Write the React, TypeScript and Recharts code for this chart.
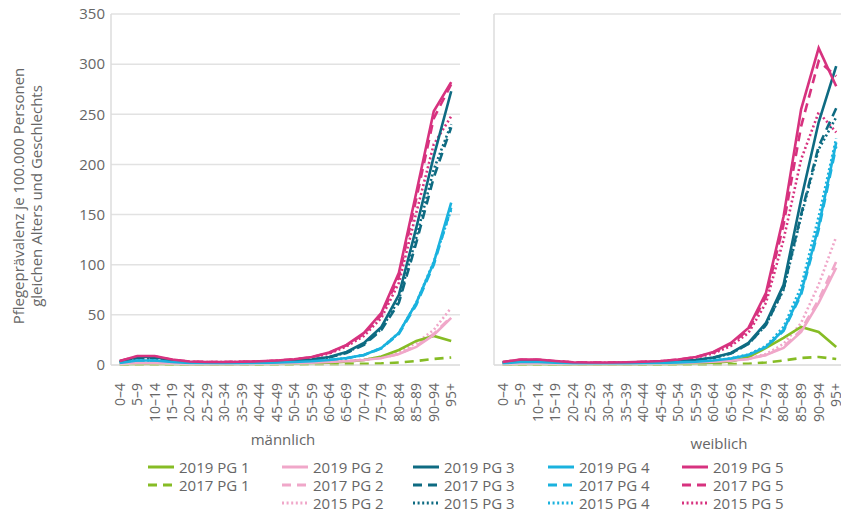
import { LineChart, Line, XAxis, YAxis, CartesianGrid } from 'recharts';

const ageGroups = ['0–4', '5–9', '10–14', '15–19', '20–24', '25–29', '30–34', '35–39', '40–44', '45–49', '50–54', '55–59', '60–64', '65–69', '70–74', '75–79', '80–84', '85–89', '90–94', '95+'];
const yTicks = [0, 50, 100, 150, 200, 250, 300, 350];

// männlich
const m2019PG1 = [0.5, 1, 1, 0.8, 0.6, 0.6, 0.6, 0.7, 0.8, 1, 1.3, 1.7, 2.3, 3.3, 5, 8.5, 15, 24, 29, 24];
const m2017PG1 = [0.3, 0.5, 0.5, 0.4, 0.3, 0.3, 0.3, 0.3, 0.4, 0.5, 0.6, 0.7, 0.8, 1, 1.2, 1.6, 2.5, 4, 6, 7.5];
const m2019PG2 = [1, 2, 2, 1.5, 1, 1, 1, 1.1, 1.3, 1.6, 2, 2.4, 3, 3.8, 5, 7, 11, 18, 30, 47];
const m2017PG2 = [1, 1.8, 1.8, 1.4, 1, 1, 1, 1.1, 1.3, 1.6, 2, 2.4, 3, 3.8, 5, 7, 11, 19, 31, 48];
const m2015PG2 = [0.9, 1.7, 1.7, 1.3, 1, 1, 1, 1.1, 1.3, 1.6, 2, 2.4, 3.1, 4, 5.3, 8, 13, 22, 35, 57];
const m2019PG3 = [3, 8, 8, 4.5, 2.5, 2.2, 2.1, 2.2, 2.5, 3, 4, 5.5, 8, 13, 22, 38, 70, 137, 208, 273];
const m2017PG3 = [3, 7, 7, 4, 2.3, 2, 2, 2.1, 2.4, 2.9, 3.8, 5.2, 7.5, 12, 20, 35, 62, 122, 187, 237];
const m2015PG3 = [2.8, 6.5, 6.5, 3.8, 2.2, 2, 2, 2.1, 2.4, 2.9, 3.8, 5.2, 7.7, 12.5, 21, 36, 65, 127, 195, 240];
const m2019PG4 = [2, 4.5, 4.5, 3, 2, 1.8, 1.8, 1.9, 2.1, 2.5, 3, 3.8, 5, 7, 10, 17, 32, 62, 102, 162];
const m2017PG4 = [2, 4.2, 4.2, 2.8, 1.9, 1.7, 1.7, 1.8, 2, 2.4, 2.9, 3.7, 4.8, 6.8, 10, 16.5, 31, 60, 100, 157];
const m2015PG4 = [1.8, 4, 4, 2.7, 1.8, 1.6, 1.6, 1.7, 1.9, 2.3, 2.8, 3.6, 4.8, 6.8, 10, 17, 32, 62, 103, 155];
const m2019PG5 = [4, 9, 9, 5.5, 3.5, 3, 3, 3.2, 3.7, 4.5, 5.8, 8, 12.5, 20, 32, 52, 92, 172, 253, 282];
const m2017PG5 = [4, 8.5, 8.5, 5.2, 3.3, 3, 3, 3.2, 3.6, 4.4, 5.6, 7.8, 12, 19.5, 31, 50, 88, 166, 246, 280];
const m2015PG5 = [3.8, 8, 8, 5, 3.2, 2.9, 2.9, 3.1, 3.5, 4.2, 5.3, 7.3, 11.5, 18.5, 29, 47, 82, 152, 220, 248];

// weiblich
const f2019PG1 = [0.4, 0.8, 0.8, 0.6, 0.5, 0.5, 0.5, 0.6, 0.7, 0.9, 1.1, 1.5, 2.2, 3.5, 8, 17, 27, 38, 33, 18];
const f2017PG1 = [0.2, 0.4, 0.4, 0.3, 0.3, 0.3, 0.3, 0.3, 0.4, 0.4, 0.5, 0.6, 0.7, 0.9, 1.3, 2.5, 4.5, 7, 8, 6];
const f2019PG2 = [0.8, 1.5, 1.5, 1.2, 1, 1, 1, 1.1, 1.3, 1.6, 2, 2.5, 3.2, 4.2, 6, 10, 17, 33, 62, 97];
const f2017PG2 = [0.8, 1.4, 1.4, 1.1, 1, 1, 1, 1.1, 1.3, 1.6, 2, 2.5, 3.2, 4.2, 6, 10, 18, 35, 65, 103];
const f2015PG2 = [0.7, 1.3, 1.3, 1.1, 1, 1, 1, 1.1, 1.3, 1.6, 2, 2.5, 3.3, 4.5, 6.5, 11, 21, 42, 80, 128];
const f2019PG3 = [2.5, 4.5, 4.5, 3, 2, 1.8, 1.8, 1.9, 2.2, 2.7, 3.5, 5, 7.5, 12, 22, 42, 80, 165, 242, 298];
const f2017PG3 = [2.3, 4.2, 4.2, 2.8, 1.9, 1.7, 1.7, 1.8, 2.1, 2.6, 3.4, 4.8, 7.2, 11.5, 21, 40, 76, 150, 218, 256];
const f2015PG3 = [2.2, 4, 4, 2.7, 1.8, 1.7, 1.7, 1.8, 2.1, 2.6, 3.4, 4.8, 7.2, 11.5, 21, 40, 75, 148, 215, 247];
const f2019PG4 = [1.5, 3, 3, 2.2, 1.6, 1.5, 1.5, 1.6, 1.8, 2.1, 2.6, 3.3, 4.5, 6.5, 10, 18, 35, 72, 138, 222];
const f2017PG4 = [1.5, 2.8, 2.8, 2.1, 1.5, 1.4, 1.4, 1.5, 1.7, 2, 2.5, 3.2, 4.4, 6.3, 9.8, 17.5, 34, 70, 135, 218];
const f2015PG4 = [1.4, 2.7, 2.7, 2, 1.5, 1.4, 1.4, 1.5, 1.7, 2, 2.5, 3.3, 4.5, 6.6, 10.5, 19, 38, 78, 148, 226];
const f2019PG5 = [3, 5.5, 5.5, 4, 2.8, 2.5, 2.5, 2.7, 3.2, 4, 5.5, 8, 13, 22, 37, 72, 148, 255, 316, 278];
const f2017PG5 = [3, 5.2, 5.2, 3.8, 2.7, 2.4, 2.4, 2.6, 3.1, 3.9, 5.3, 7.8, 12.5, 21, 35, 68, 140, 238, 303, 288];
const f2015PG5 = [2.8, 5, 5, 3.6, 2.6, 2.3, 2.3, 2.5, 3, 3.7, 5, 7.3, 11.5, 19, 32, 62, 125, 205, 252, 232];

const pgColors = ['#86bc25', '#f0a7c9', '#0e6b82', '#1ab2de', '#d7327f'];
const dashByYear: Record<string, string | undefined> = { '2019': undefined, '2017': '9 6', '2015': '2 2.6' };

const series = [
  { key: 's2015PG2', year: '2015', pg: 2, m: m2015PG2, f: f2015PG2 },
  { key: 's2015PG3', year: '2015', pg: 3, m: m2015PG3, f: f2015PG3 },
  { key: 's2015PG4', year: '2015', pg: 4, m: m2015PG4, f: f2015PG4 },
  { key: 's2015PG5', year: '2015', pg: 5, m: m2015PG5, f: f2015PG5 },
  { key: 's2017PG1', year: '2017', pg: 1, m: m2017PG1, f: f2017PG1 },
  { key: 's2017PG2', year: '2017', pg: 2, m: m2017PG2, f: f2017PG2 },
  { key: 's2017PG3', year: '2017', pg: 3, m: m2017PG3, f: f2017PG3 },
  { key: 's2017PG4', year: '2017', pg: 4, m: m2017PG4, f: f2017PG4 },
  { key: 's2017PG5', year: '2017', pg: 5, m: m2017PG5, f: f2017PG5 },
  { key: 's2019PG1', year: '2019', pg: 1, m: m2019PG1, f: f2019PG1 },
  { key: 's2019PG2', year: '2019', pg: 2, m: m2019PG2, f: f2019PG2 },
  { key: 's2019PG3', year: '2019', pg: 3, m: m2019PG3, f: f2019PG3 },
  { key: 's2019PG4', year: '2019', pg: 4, m: m2019PG4, f: f2019PG4 },
  { key: 's2019PG5', year: '2019', pg: 5, m: m2019PG5, f: f2019PG5 },
];

const buildRows = (sex: 'm' | 'f') =>
  ageGroups.map((age, i) => {
    const row: Record<string, string | number> = { age };
    series.forEach((s) => { row[s.key] = s[sex][i]; });
    return row;
  });

const maleData = buildRows('m');
const femaleData = buildRows('f');

const FONT = '"Open Sans", "DejaVu Sans", sans-serif';
const GREY = '#666';

const AgeTick = (props: any) => {
  const { x, y, payload } = props;
  return (
    <text x={x} y={y} transform={`rotate(-90 ${x} ${y})`} dx={-10} dy="0.35em" textAnchor="end" fontSize={14} fill={GREY} fontFamily={FONT}>
      {payload.value}
    </text>
  );
};

function Panel({ data, showY }: { data: any[]; showY: boolean }) {
  return (
    <LineChart
      width={showY ? 470 : 380}
      height={430}
      data={data}
      margin={{ top: 14, right: showY ? 10 : 5, left: showY ? 0 : 23, bottom: 0 }}
    >
      <CartesianGrid vertical={false} stroke="#e2e2e2" strokeWidth={1.5} />
      <XAxis dataKey="age" interval={0} height={65} padding={{ left: 8.8, right: 8.8 }} axisLine={{ stroke: '#dcdcdc' }} tickLine={false} tick={<AgeTick />} />
      <YAxis
        domain={[0, 350]}
        ticks={yTicks}
        width={showY ? 111 : 1}
        tick={showY ? { fontSize: 15, fill: GREY, fontFamily: FONT } : false}
        tickLine={false}
        tickSize={4}
        axisLine={{ stroke: '#dcdcdc', strokeWidth: 1.5 }}
      />
      {series.map((s) => (
        <Line
          key={s.key}
          dataKey={s.key}
          type="linear"
          stroke={pgColors[s.pg - 1]}
          strokeWidth={2.6}
          strokeDasharray={dashByYear[s.year]}
          dot={false}
          activeDot={false}
          isAnimationActive={false}
        />
      ))}
    </LineChart>
  );
}

const legendCols = [148, 282, 413, 548, 682];
const legendRows: Record<string, number> = { '2019': 467, '2017': 485, '2015': 503 };

export default function App() {
  return (
    <div style={{ position: 'absolute', left: 0, top: 0, width: 841, height: 513, overflow: 'hidden', background: '#fff', fontFamily: FONT, color: GREY }}>
      <div style={{ position: 'absolute', left: 0, top: 0 }}>
        <Panel data={maleData} showY />
      </div>
      <div style={{ position: 'absolute', left: 470, top: 0 }}>
        <Panel data={femaleData} showY={false} />
      </div>
      <svg width={50} height={380} style={{ position: 'absolute', left: 0, top: 0 }}>
        <text transform="translate(18 196) rotate(-90)" textAnchor="middle" dominantBaseline="central" fontSize={15} fill={GREY} fontFamily={FONT}>
          Pflegeprävalenz je 100.000 Personen
        </text>
        <text transform="translate(36 196) rotate(-90)" textAnchor="middle" dominantBaseline="central" fontSize={15} fill={GREY} fontFamily={FONT}>
          gleichen Alters und Geschlechts
        </text>
      </svg>
      <div style={{ position: 'absolute', left: 183, width: 200, top: 429, textAlign: 'center', fontSize: 15 }}>männlich</div>
      <div style={{ position: 'absolute', left: 619, width: 200, top: 433, textAlign: 'center', fontSize: 15 }}>weiblich</div>
      {series.map((s) => {
        const x = legendCols[s.pg - 1];
        const y = legendRows[s.year];
        return (
          <div key={s.key} style={{ position: 'absolute', left: x, top: y - 9, height: 18, lineHeight: '18px', display: 'flex', alignItems: 'center', fontSize: 15, whiteSpace: 'nowrap' }}>
            <svg width={26} height={6} style={{ marginRight: 5 }}>
              <line x1={0} y1={3} x2={26} y2={3} stroke={pgColors[s.pg - 1]} strokeWidth={3} strokeDasharray={dashByYear[s.year]} />
            </svg>
            {`${s.year} PG ${s.pg}`}
          </div>
        );
      })}
    </div>
  );
}
